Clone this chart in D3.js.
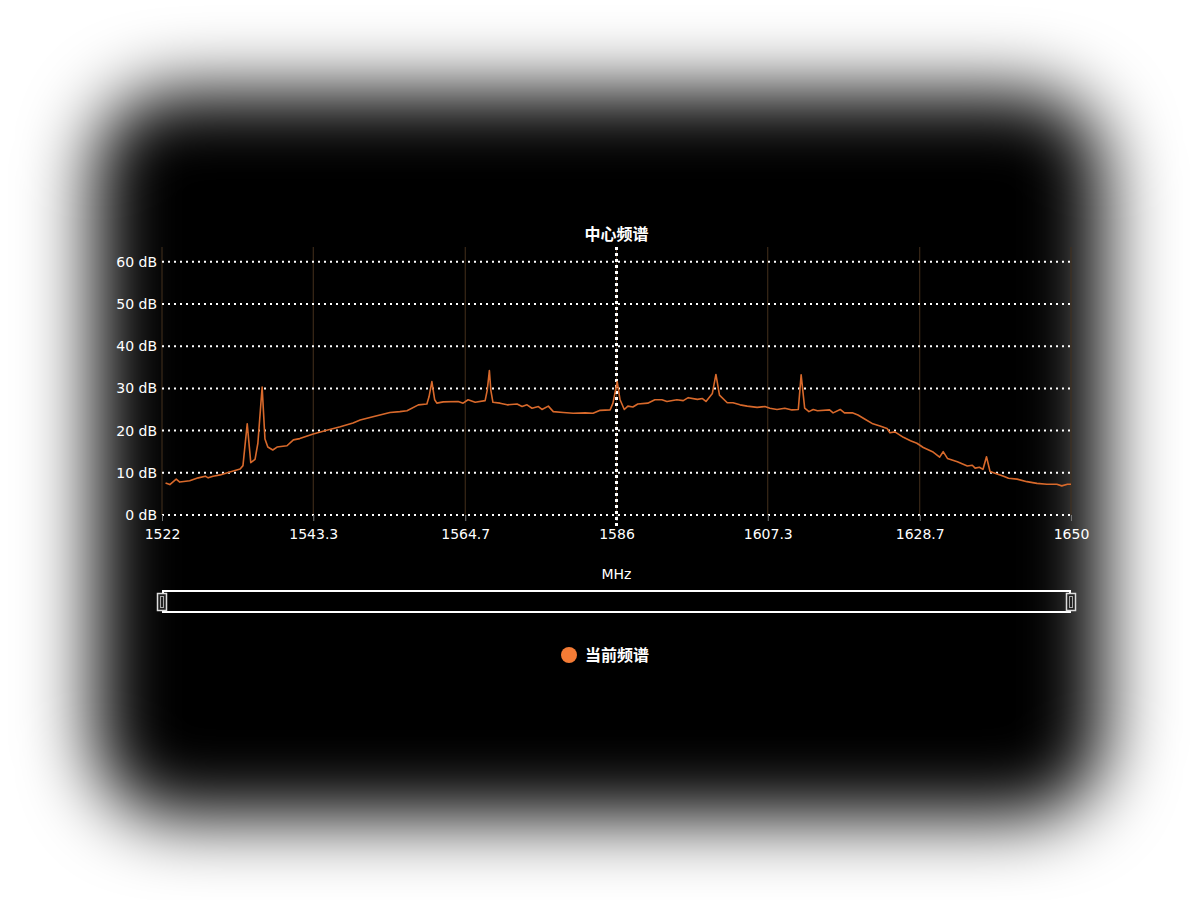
<!DOCTYPE html>
<html>
<head>
<meta charset="utf-8">
<script src="https://cdn.jsdelivr.net/npm/d3@7"></script>
<style>
  html, body { margin: 0; padding: 0; background: #fff; }
  svg { display: block; font-family: "DejaVu Sans", Verdana, sans-serif; }
</style>
</head>
<body>
<div id="chart"></div>
<script>
// spectrum: frequency (MHz) and level (dB)
const freqs = [
  1522.5, 1523.1, 1524.0, 1524.5, 1525.9, 1527.1, 1528.1, 1528.5, 1529.2, 1530.2,
  1531.2, 1533.0, 1533.4, 1534.0, 1534.5, 1535.1, 1535.5, 1536.1, 1536.5, 1536.9,
  1537.6, 1538.2, 1539.6, 1540.5, 1541.4, 1543.3, 1545.2, 1547.1, 1548.9, 1549.9,
  1551.7, 1554.1, 1555.5, 1556.5, 1558.1, 1559.3, 1559.6, 1560.0, 1560.4, 1560.7,
  1561.6, 1563.7, 1564.4, 1565.1, 1566.1, 1567.5, 1567.8, 1568.1, 1568.3, 1568.6,
  1569.6, 1570.6, 1572.0, 1572.7, 1573.4, 1574.1, 1575.0, 1575.5, 1576.4, 1577.1,
  1578.5, 1579.9, 1581.6, 1582.7, 1583.7, 1585.1, 1585.5, 1586.1, 1586.5, 1587.1,
  1587.6, 1588.3, 1589.0, 1590.4, 1591.4, 1592.4, 1593.1, 1594.5, 1595.4, 1596.1,
  1597.4, 1598.1, 1598.6, 1599.5, 1600.0, 1600.5, 1601.6, 1602.4, 1603.4, 1604.4,
  1605.8, 1606.9, 1607.6, 1608.6, 1609.7, 1610.7, 1611.6, 1612.0, 1612.5, 1613.1,
  1613.7, 1614.3, 1616.0, 1616.5, 1617.5, 1618.1, 1619.2, 1620.0, 1621.0, 1622.1,
  1623.1, 1624.1, 1624.5, 1625.2, 1626.4, 1627.4, 1628.3, 1629.2, 1630.5, 1631.5,
  1632.0, 1632.6, 1634.0, 1635.4, 1636.1, 1636.5, 1637.1, 1637.6, 1638.1, 1638.6,
  1639.6, 1640.5, 1641.2, 1642.4, 1643.8, 1645.2, 1646.6, 1648.0, 1648.7, 1649.5,
  1650.0
];
const levels = [
  7.6, 7.2, 8.5, 7.8, 8.1, 8.8, 9.2, 8.8, 9.2, 9.5,
  10.0, 10.9, 11.7, 21.6, 12.4, 13.2, 17.0, 30.3, 18.0, 16.1,
  15.4, 16.1, 16.4, 17.8, 18.1, 19.2, 20.1, 20.9, 21.8, 22.5,
  23.3, 24.3, 24.5, 24.7, 26.1, 26.3, 28.0, 31.6, 27.3, 26.5,
  26.8, 26.9, 26.5, 27.3, 26.7, 27.1, 29.6, 34.2, 29.6, 26.7,
  26.5, 26.1, 26.3, 25.7, 26.1, 25.3, 25.7, 25.0, 25.8, 24.5,
  24.3, 24.1, 24.2, 24.1, 24.8, 24.9, 26.5, 31.6, 27.3, 25.0,
  25.8, 25.6, 26.3, 26.5, 27.3, 27.3, 26.9, 27.3, 27.1, 27.8,
  27.4, 27.6, 26.9, 28.8, 33.3, 28.4, 26.6, 26.6, 26.1, 25.8,
  25.5, 25.7, 25.3, 25.0, 25.3, 24.9, 25.0, 33.2, 25.3, 24.5,
  25.0, 24.7, 24.9, 24.2, 25.0, 24.2, 24.2, 23.7, 22.7, 21.6,
  21.1, 20.5, 19.5, 19.7, 18.4, 17.6, 17.0, 16.0, 15.0, 13.7,
  15.0, 13.4, 12.6, 11.6, 11.8, 11.1, 11.3, 10.8, 13.8, 10.3,
  9.7, 9.2, 8.7, 8.5, 7.9, 7.5, 7.3, 7.3, 6.9, 7.3,
  7.3
];
const xTicks = [1522, 1543.3, 1564.7, 1586, 1607.3, 1628.7, 1650];
const yTicks = [0, 10, 20, 30, 40, 50, 60];
const centerFreq = 1586;
const title = "中心频谱";
const xName = "MHz";
const seriesName = "当前频谱";

const width = 1200, height = 900;
const margin = { left: 162, right: 129, top: 247, bottom: 385 };
const plotW = width - margin.left - margin.right;
const plotH = height - margin.top - margin.bottom;
const lineColor = "#d8692b";

const svg = d3.select("#chart").append("svg")
  .attr("width", width)
  .attr("height", height);

// blurred black panel behind everything
const defs = svg.append("defs");
defs.append("filter")
  .attr("id", "glow")
  .attr("x", "-30%").attr("y", "-30%")
  .attr("width", "160%").attr("height", "160%")
  .append("feGaussianBlur")
  .attr("stdDeviation", 36);

svg.append("rect")
  .attr("x", 95).attr("y", 92)
  .attr("width", 1008).attr("height", 725)
  .attr("rx", 80)
  .attr("fill", "#000")
  .attr("filter", "url(#glow)");

const x = d3.scaleLinear().domain([1522, 1650]).range([0, plotW]);
const y = d3.scaleLinear().domain([0, 63.5]).range([plotH, 0]);

const g = svg.append("g")
  .attr("transform", `translate(${margin.left},${margin.top})`);

// vertical grid lines
g.append("g")
  .selectAll("line")
  .data(xTicks)
  .join("line")
  .attr("x1", d => x(d)).attr("x2", d => x(d))
  .attr("y1", 0).attr("y2", plotH)
  .attr("stroke", "#45301c")
  .attr("stroke-width", 1);

// horizontal dotted grid lines
g.append("g")
  .selectAll("line")
  .data(yTicks)
  .join("line")
  .attr("x1", 0).attr("x2", plotW)
  .attr("y1", d => y(d)).attr("y2", d => y(d))
  .attr("stroke", "#fff")
  .attr("stroke-width", 2)
  .attr("stroke-dasharray", "2,4");

// y axis labels
const yAxis = g.append("g")
  .call(d3.axisLeft(y).tickValues(yTicks).tickSize(0).tickPadding(5).tickFormat(d => d + " dB"));
yAxis.select(".domain").remove();
yAxis.selectAll("text")
  .attr("fill", "#fff")
  .attr("font-size", 14)
  .attr("font-family", "DejaVu Sans, sans-serif");

// x axis
const xAxis = g.append("g")
  .attr("transform", `translate(0,${plotH})`)
  .call(d3.axisBottom(x).tickValues(xTicks).tickSize(6).tickPadding(8).tickFormat(d => String(d)));
xAxis.select(".domain").remove();
xAxis.selectAll("line").attr("stroke", "#777");
xAxis.selectAll("text")
  .attr("fill", "#fff")
  .attr("font-size", 14)
  .attr("font-family", "DejaVu Sans, sans-serif");

// center marker
g.append("line")
  .attr("x1", x(centerFreq)).attr("x2", x(centerFreq))
  .attr("y1", 0).attr("y2", plotH + 12)
  .attr("stroke", "#fff")
  .attr("stroke-width", 3)
  .attr("stroke-dasharray", "3,3");

// spectrum line
const data = freqs.map((f, i) => ({ f, v: levels[i] }));
const line = d3.line()
  .x(d => x(d.f))
  .y(d => y(d.v));

g.append("path")
  .datum(data)
  .attr("d", line)
  .attr("fill", "none")
  .attr("stroke", lineColor)
  .attr("stroke-width", 1.6)
  .attr("stroke-linejoin", "round");

// title
svg.append("text")
  .attr("x", margin.left + x(centerFreq))
  .attr("y", 240)
  .attr("text-anchor", "middle")
  .attr("fill", "#fff")
  .attr("font-size", 16)
  .attr("font-weight", "bold")
  .attr("font-family", "Noto Sans CJK SC, sans-serif")
  .text(title);

// x axis name
svg.append("text")
  .attr("x", margin.left + x(centerFreq))
  .attr("y", 579)
  .attr("text-anchor", "middle")
  .attr("fill", "#fff")
  .attr("font-size", 14)
  .text(xName);

// data zoom slider
const slider = svg.append("g").attr("transform", `translate(${margin.left},591)`);
slider.append("rect")
  .attr("x", 1).attr("y", 0)
  .attr("width", plotW - 2).attr("height", 21)
  .attr("fill", "none")
  .attr("stroke", "#fff")
  .attr("stroke-width", 2);
[0, plotW].forEach(px => {
  slider.append("rect")
    .attr("x", px - 4.5).attr("y", 2.5)
    .attr("width", 9).attr("height", 17)
    .attr("fill", "#222")
    .attr("stroke", "#ddd")
    .attr("stroke-width", 1.5);
  slider.append("rect")
    .attr("x", px - 1.5).attr("y", 5.5)
    .attr("width", 3).attr("height", 11)
    .attr("fill", "none")
    .attr("stroke", "#aaa")
    .attr("stroke-width", 1);
});

// legend
const legend = svg.append("g").attr("transform", "translate(569,655)");
legend.append("circle")
  .attr("r", 8)
  .attr("fill", "#f47b35");
legend.append("text")
  .attr("x", 16)
  .attr("y", 5.5)
  .attr("fill", "#fff")
  .attr("font-size", 16)
  .attr("font-weight", "bold")
  .attr("font-family", "Noto Sans CJK SC, sans-serif")
  .text(seriesName);
</script>
</body>
</html>
